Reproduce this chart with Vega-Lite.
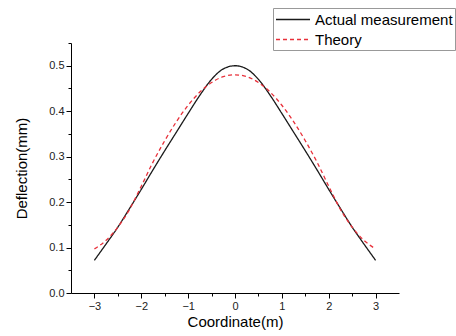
{
  "$schema": "https://vega.github.io/schema/vega-lite/v6.json",
  "autosize": {"type": "none"},
  "padding": {"left": 71, "top": 43, "right": 57, "bottom": 43},
  "width": 328,
  "height": 250,
  "config": {
    "view": {"stroke": null},
    "font": "Liberation Sans",
    "axis": {"grid": false, "domainColor": "#000", "tickColor": "#000", "labelColor": "#222", "titleColor": "#000", "labelFont": "Liberation Sans", "titleFont": "Liberation Sans", "titleFontWeight": "normal"}
  },
  "data": {
    "values": [
      {"x": -3, "y": 0.072, "s": "Actual measurement"},
      {"x": -2.75, "y": 0.108, "s": "Actual measurement"},
      {"x": -2.5, "y": 0.145, "s": "Actual measurement"},
      {"x": -2.25, "y": 0.186, "s": "Actual measurement"},
      {"x": -2, "y": 0.228, "s": "Actual measurement"},
      {"x": -1.75, "y": 0.271, "s": "Actual measurement"},
      {"x": -1.5, "y": 0.313, "s": "Actual measurement"},
      {"x": -1.25, "y": 0.354, "s": "Actual measurement"},
      {"x": -1, "y": 0.395, "s": "Actual measurement"},
      {"x": -0.75, "y": 0.435, "s": "Actual measurement"},
      {"x": -0.5, "y": 0.47, "s": "Actual measurement"},
      {"x": -0.25, "y": 0.493, "s": "Actual measurement"},
      {"x": 0, "y": 0.5, "s": "Actual measurement"},
      {"x": 0.25, "y": 0.493, "s": "Actual measurement"},
      {"x": 0.5, "y": 0.47, "s": "Actual measurement"},
      {"x": 0.75, "y": 0.435, "s": "Actual measurement"},
      {"x": 1, "y": 0.395, "s": "Actual measurement"},
      {"x": 1.25, "y": 0.354, "s": "Actual measurement"},
      {"x": 1.5, "y": 0.313, "s": "Actual measurement"},
      {"x": 1.75, "y": 0.271, "s": "Actual measurement"},
      {"x": 2, "y": 0.228, "s": "Actual measurement"},
      {"x": 2.25, "y": 0.186, "s": "Actual measurement"},
      {"x": 2.5, "y": 0.145, "s": "Actual measurement"},
      {"x": 2.75, "y": 0.108, "s": "Actual measurement"},
      {"x": 3, "y": 0.072, "s": "Actual measurement"},
      {"x": -3, "y": 0.097, "s": "Theory"},
      {"x": -2.75, "y": 0.116, "s": "Theory"},
      {"x": -2.5, "y": 0.145, "s": "Theory"},
      {"x": -2.25, "y": 0.184, "s": "Theory"},
      {"x": -2, "y": 0.235, "s": "Theory"},
      {"x": -1.75, "y": 0.288, "s": "Theory"},
      {"x": -1.5, "y": 0.335, "s": "Theory"},
      {"x": -1.25, "y": 0.377, "s": "Theory"},
      {"x": -1, "y": 0.413, "s": "Theory"},
      {"x": -0.75, "y": 0.442, "s": "Theory"},
      {"x": -0.5, "y": 0.463, "s": "Theory"},
      {"x": -0.25, "y": 0.476, "s": "Theory"},
      {"x": 0, "y": 0.48, "s": "Theory"},
      {"x": 0.25, "y": 0.476, "s": "Theory"},
      {"x": 0.5, "y": 0.463, "s": "Theory"},
      {"x": 0.75, "y": 0.442, "s": "Theory"},
      {"x": 1, "y": 0.413, "s": "Theory"},
      {"x": 1.25, "y": 0.377, "s": "Theory"},
      {"x": 1.5, "y": 0.335, "s": "Theory"},
      {"x": 1.75, "y": 0.288, "s": "Theory"},
      {"x": 2, "y": 0.235, "s": "Theory"},
      {"x": 2.25, "y": 0.184, "s": "Theory"},
      {"x": 2.5, "y": 0.145, "s": "Theory"},
      {"x": 2.75, "y": 0.116, "s": "Theory"},
      {"x": 3, "y": 0.097, "s": "Theory"}
    ]
  },
  "layer": [
    {
      "mark": {"type": "line", "interpolate": "monotone", "strokeWidth": 1.3},
      "encoding": {
        "x": {"field": "x", "type": "quantitative", "scale": {"domain": [-3.5, 3.5], "nice": false, "zero": false},
          "axis": {"values": [-3, -2, -1, 0, 1, 2, 3], "tickSize": 5, "labelFontSize": 11, "labelPadding": 2, "title": "Coordinate(m)", "titleFontSize": 15, "titlePadding": 3}},
        "y": {"field": "y", "type": "quantitative", "scale": {"domain": [0, 0.55], "nice": false},
          "axis": {"values": [0, 0.1, 0.2, 0.3, 0.4, 0.5], "format": ".1f", "tickSize": 5, "labelFontSize": 11, "labelPadding": 2, "title": "Deflection(mm)", "titleFontSize": 15, "titlePadding": 19}},
        "color": {"field": "s", "type": "nominal", "scale": {"domain": ["Actual measurement", "Theory"], "range": ["#1a1a1a", "#e8303a"]},
          "legend": {"title": null, "orient": "none", "legendX": 202, "legendY": -35, "strokeColor": "#999", "fillColor": "#fff", "padding": 2, "labelFontSize": 15, "labelColor": "#000", "labelFont": "Liberation Sans", "symbolType": "M-1,0H3", "symbolSize": 289, "symbolStrokeWidth": 1.3, "labelOffset": 21, "rowPadding": 2, "labelLimit": 300}},
        "strokeDash": {"field": "s", "type": "nominal", "scale": {"domain": ["Actual measurement", "Theory"], "range": [[1, 0], [4, 3]]}, "legend": null}
      }
    },
    {
      "mark": {"type": "rule", "opacity": 0},
      "data": {"values": [{"x": -3.5, "y": 0}]},
      "encoding": {
        "x": {"field": "x", "type": "quantitative", "axis": {"values": [-2.5, -1.5, -0.5, 0.5, 1.5, 2.5], "tickSize": 3, "labels": false, "domain": false, "title": null, "orient": "bottom"}},
        "y": {"field": "y", "type": "quantitative", "axis": {"values": [0.05, 0.15, 0.25, 0.35, 0.45, 0.55], "tickSize": 3, "labels": false, "domain": false, "title": null, "orient": "left"}}
      }
    }
  ],
  "resolve": {"axis": {"x": "independent", "y": "independent"}}
}
